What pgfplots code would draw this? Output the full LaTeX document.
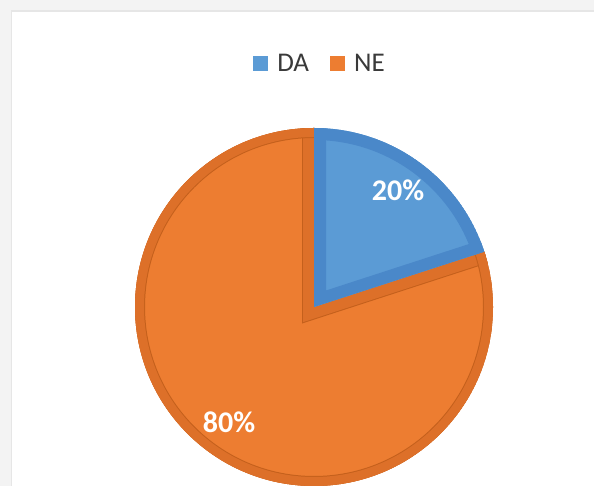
\documentclass[border=0pt]{standalone}
\usepackage{pgfplots}
\pgfplotsset{compat=1.18}
\usepackage{pgfplotstable}
\usepackage{fontspec}
\setmainfont{Carlito}
\definecolor{orangefill}{HTML}{ED7D31}
\definecolor{orangeband}{HTML}{DD7029}
\definecolor{orangeline}{HTML}{C4601C}
\definecolor{bluefill}{HTML}{5B9BD5}
\definecolor{blueband}{HTML}{4A88C9}
\definecolor{legtext}{HTML}{3A3A3A}
\definecolor{framegray}{HTML}{F3F3F3}
\definecolor{frameedge}{HTML}{E6E6E6}

\pgfplotstableread{
label value
DA 20
NE 80
}\piedata

\begin{document}
\begin{tikzpicture}
\pgfplotstablegetelem{0}{value}\of\piedata
\let\vDA\pgfplotsretval
\pgfplotstablegetelem{1}{value}\of\piedata
\let\vNE\pgfplotsretval
\pgfmathsetmacro{\aDA}{360*\vDA/(\vDA+\vNE)}
\pgfmathsetmacro{\sDA}{90-\aDA}
\pgfmathsetmacro{\eNE}{\sDA+360}
\begin{axis}[
  width=594pt, height=486pt, scale only axis,
  xmin=0, xmax=594, ymin=0, ymax=486,
  hide axis,
  legend columns=2,
  legend image code/.code={\fill[#1, draw=none] (0pt,-7.5pt) rectangle (15pt,7.5pt);},
  legend style={draw=none, fill=none, at={(0.537,0.870)}, anchor=center,
    font=\fontsize{27}{32}\selectfont, text=legtext,
    nodes={inner sep=0pt},
    /tikz/column 1/.style={column sep=9pt},
    /tikz/column 2/.style={column sep=21pt},
    /tikz/column 3/.style={column sep=9pt}},
]
% background frame
\fill[framegray] (axis cs:0,0) rectangle (axis cs:594,486);
\fill[white] (axis cs:12,0) rectangle (axis cs:594,474);
\draw[frameedge, line width=1.5pt] (axis cs:11.25,0) -- (axis cs:11.25,474.75) -- (axis cs:594,474.75);
\addlegendimage{fill=bluefill}
\addlegendentry{DA}
\addlegendimage{fill=orangefill}
\addlegendentry{NE}
% NE slice
\begin{scope}
  \clip (axis cs:314,179) circle[radius=179pt];
  \clip (axis cs:314,179) -- ++(90:400pt) arc[start angle=90, end angle=\eNE, radius=400pt] -- cycle;
  \fill[orangefill] (axis cs:314,179) circle[radius=179pt];
  \draw[orangeline, line width=24pt] (axis cs:314,179) -- ++(90:400pt) arc[start angle=90, end angle=\eNE, radius=400pt] -- cycle;
  \draw[orangeband, line width=22pt] (axis cs:314,179) -- ++(90:400pt) arc[start angle=90, end angle=\eNE, radius=400pt] -- cycle;
  \draw[orangeline, line width=20pt] (axis cs:314,179) circle[radius=179pt];
  \draw[orangeband, line width=18pt] (axis cs:314,179) circle[radius=179pt];
\end{scope}
% DA slice
\begin{scope}
  \clip (axis cs:314,179) circle[radius=179pt];
  \clip (axis cs:314,179) -- ++(\sDA:400pt) arc[start angle=\sDA, end angle=90, radius=400pt] -- cycle;
  \fill[bluefill] (axis cs:314,179) circle[radius=179pt];
  \draw[blueband, line width=24pt] (axis cs:314,179) -- ++(\sDA:400pt) arc[start angle=\sDA, end angle=90, radius=400pt] -- cycle;
  \draw[blueband, line width=24pt] (axis cs:314,179) circle[radius=179pt];
\end{scope}
\node[text=white, font=\fontsize{30}{36}\selectfont\bfseries] at (axis cs:398,296) {20\%};
\node[text=white, font=\fontsize{30}{36}\selectfont\bfseries] at (axis cs:229,64) {80\%};
\end{axis}
\end{tikzpicture}
\end{document}
